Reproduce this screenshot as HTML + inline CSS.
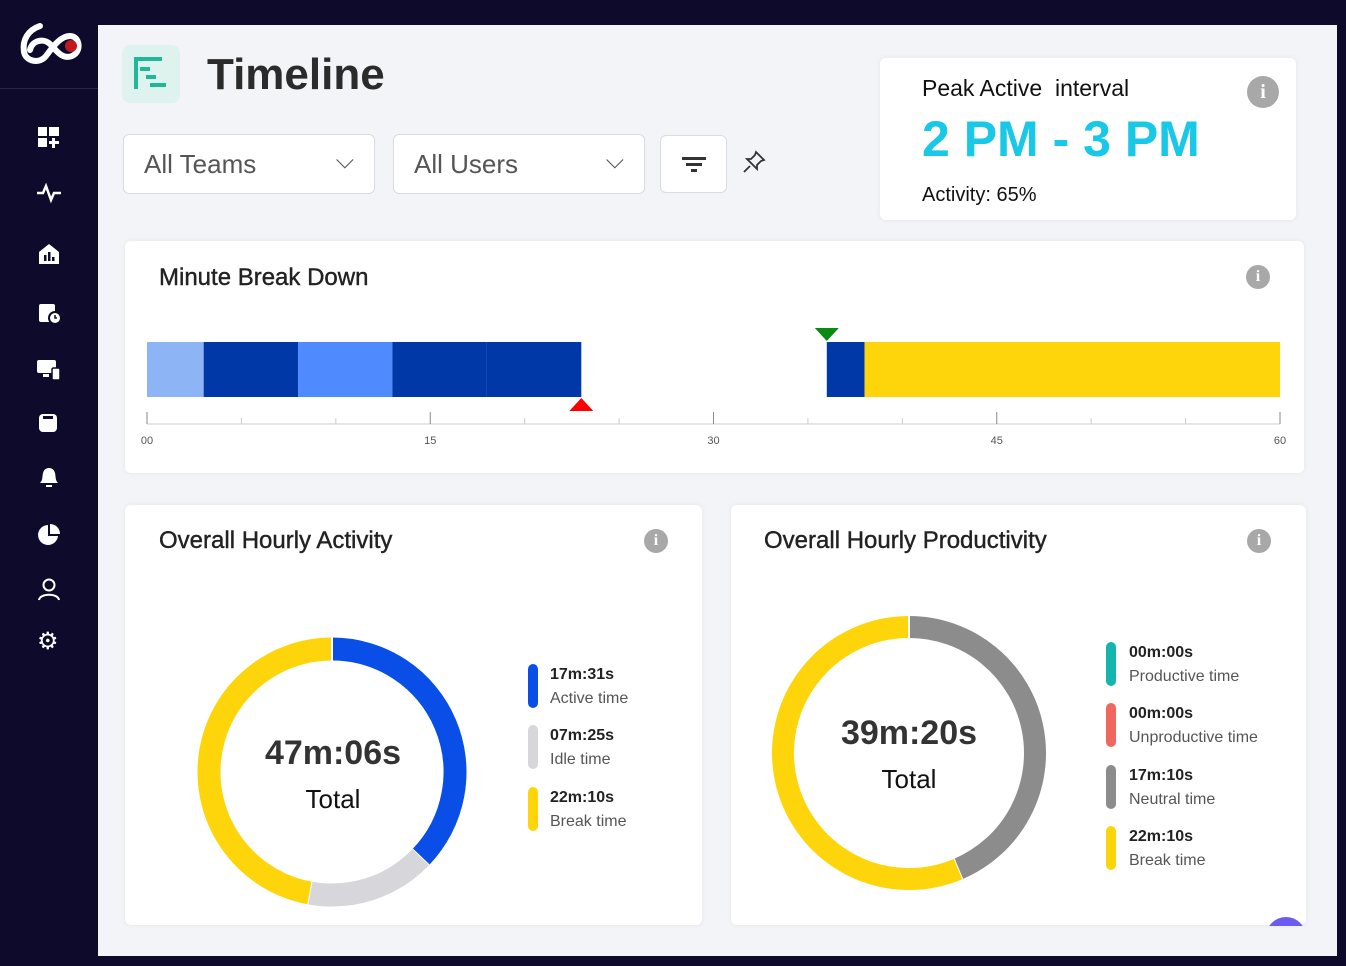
<!DOCTYPE html>
<html><head><meta charset="utf-8"><style>
*{box-sizing:border-box;margin:0;padding:0}
body{width:1346px;height:966px;background:#0e0a2c;font-family:"Liberation Sans",sans-serif;position:relative;overflow:hidden}
.abs{position:absolute}
#main{left:98px;top:25px;width:1239px;height:931px;background:#f3f4f7}
.card{background:#fff;border-radius:6px;box-shadow:0 0 6px rgba(0,0,0,.06)}
.sel{background:#fff;border:1px solid #d8dbe0;border-radius:6px;font-size:26px;color:#555;padding:14px 20px}
.info{width:24px;height:24px;border-radius:50%;background:#a8a8a8;color:#fff;font:bold 16px "Liberation Serif",serif;text-align:center;line-height:24px}
.ttl{font-size:24px;color:#222;-webkit-text-stroke:0.4px #222}
.lg{font-size:16px;color:#222;font-weight:bold;line-height:24px}
.lg span{font-weight:normal;color:#555;display:block}
.bar{width:10px;height:44px;border-radius:5px}
.ic{position:absolute;background:#fff}
</style></head><body>
<svg class="abs" style="left:18px;top:22px" width="66" height="46">
<path d="M22 4 C10 8 4 18 6 30 C8 40 22 42 28 34 C34 26 42 14 52 14 C62 14 64 30 54 34 C44 38 38 28 32 22 C26 16 14 18 12 28" fill="none" stroke="#fff" stroke-width="6" stroke-linecap="round"/>
<circle cx="53" cy="24" r="6" fill="#c01920"/></svg>
<div class="abs" style="left:0;top:88px;width:98px;height:1px;background:#2a2550"></div>
<div class="abs" style="left:38px;top:127px;width:22px;height:22px"><div class="ic" style="left:0;top:0;width:9px;height:9px"></div><div class="ic" style="left:11px;top:0;width:10px;height:9px"></div><div class="ic" style="left:0;top:11px;width:9px;height:9px"></div><div class="ic" style="left:14px;top:11px;width:3px;height:10px"></div><div class="ic" style="left:11px;top:14px;width:10px;height:3px"></div></div>
<svg class="abs" style="left:36px;top:182px" width="26" height="22"><path d="M1 11H7L10 4L15 18L18 11H25" fill="none" stroke="#fff" stroke-width="2.5"/></svg>
<svg class="abs" style="left:37px;top:243px" width="24" height="22"><path d="M2 9L12 1L22 9V21H2Z" fill="#fff"/><rect x="7" y="12" width="2.5" height="6" fill="#0e0a2c"/><rect x="11" y="9" width="2.5" height="9" fill="#0e0a2c"/><rect x="15" y="14" width="2.5" height="4" fill="#0e0a2c"/></svg>
<svg class="abs" style="left:38px;top:303px" width="24" height="22"><rect x="1" y="1" width="16" height="18" rx="2" fill="#fff"/><circle cx="17" cy="15" r="6" fill="#fff" stroke="#0e0a2c" stroke-width="2"/><path d="M17 12V15H19" stroke="#0e0a2c" stroke-width="1.5" fill="none"/></svg>
<svg class="abs" style="left:37px;top:360px" width="24" height="20"><rect x="0" y="0" width="19" height="13" rx="2" fill="#fff"/><rect x="6" y="14" width="6" height="3" fill="#fff"/><rect x="15" y="8" width="8" height="12" rx="1.5" fill="#fff" stroke="#0e0a2c" stroke-width="1.5"/></svg>
<svg class="abs" style="left:39px;top:412px" width="20" height="20"><rect x="0" y="2" width="18" height="18" rx="4" fill="#fff"/><rect x="4" y="4" width="10" height="3" fill="#0e0a2c"/></svg>
<svg class="abs" style="left:37px;top:465px" width="24" height="24"><path d="M3 18C6 15 5 12 6 8C7 4 10 3 12 3C14 3 17 4 18 8C19 12 18 15 21 18Z" fill="#fff"/><rect x="9" y="20" width="6" height="2" fill="#fff"/></svg>
<svg class="abs" style="left:37px;top:523px" width="24" height="24"><path d="M11 2A10 10 0 1 0 21 13H11Z" fill="#fff"/><path d="M13 1A10 10 0 0 1 23 11H13Z" fill="#fff"/></svg>
<svg class="abs" style="left:37px;top:578px" width="24" height="24"><circle cx="12" cy="7" r="5.5" fill="none" stroke="#fff" stroke-width="2"/><path d="M2 22C3 15 21 15 22 22" fill="none" stroke="#fff" stroke-width="2"/></svg>
<div class="abs" style="left:37px;top:627px;color:#fff;font-size:24px">⚙</div>

<div id="main" class="abs"></div>
<div class="abs" style="left:122px;top:45px;width:58px;height:58px;background:#dff3ee;border-radius:8px">
<div class="abs" style="left:12px;top:12px;width:4px;height:32px;background:#1fb89a"></div>
<div class="abs" style="left:12px;top:12px;width:28px;height:4px;background:#1fb89a"></div>
<div class="abs" style="left:18px;top:22px;width:10px;height:4px;background:#1fb89a"></div>
<div class="abs" style="left:24px;top:30px;width:10px;height:4px;background:#1fb89a"></div>
<div class="abs" style="left:28px;top:38px;width:16px;height:4px;background:#1fb89a"></div></div>
<div class="abs" style="left:207px;top:50px;font-size:44px;font-weight:bold;color:#2b2b2b">Timeline</div>
<div class="abs sel" style="left:123px;top:134px;width:252px;height:60px">All Teams<span style="position:absolute;right:20px;top:12px;font-size:24px">⌵</span></div>
<div class="abs sel" style="left:393px;top:134px;width:252px;height:60px">All Users<span style="position:absolute;right:20px;top:12px;font-size:24px">⌵</span></div>
<div class="abs sel" style="left:660px;top:135px;width:67px;height:58px;padding:0">
<div class="abs" style="left:21px;top:21px;width:24px;height:3px;background:#333"></div>
<div class="abs" style="left:25px;top:27px;width:16px;height:3px;background:#333"></div>
<div class="abs" style="left:30px;top:33px;width:6px;height:3px;background:#333"></div></div>
<svg class="abs" style="left:742px;top:150px" width="24" height="24"><path d="M14 2L22 10L19 11L15 15L15 19L5 9L9 9L13 5Z M8 16L2 22" fill="none" stroke="#333" stroke-width="1.8"/></svg>

<div class="abs card" style="left:880px;top:58px;width:416px;height:162px">
<div class="abs" style="left:42px;top:17px;font-size:23px;color:#111">Peak Active&nbsp; interval</div>
<div class="abs" style="left:42px;top:52px;font-size:50px;font-weight:bold;color:#19c7e6">2 PM - 3 PM</div>
<div class="abs" style="left:42px;top:126px;font-size:20px;color:#111">Activity: 65%</div>
<div class="abs info" style="left:367px;top:18px;width:32px;height:32px;line-height:32px;font-size:20px">i</div></div>

<div class="abs card" style="left:125px;top:241px;width:1179px;height:232px">
<div class="abs ttl" style="left:34px;top:23px">Minute Break Down</div>
<div class="abs info" style="left:1121px;top:24px">i</div></div>
<svg class="abs" id="tl" style="left:0;top:0" width="1346" height="480"></svg>

<div class="abs card" style="left:125px;top:505px;width:577px;height:420px">
<div class="abs ttl" style="left:34px;top:22px">Overall Hourly Activity</div>
<div class="abs info" style="left:519px;top:24px">i</div></div>
<div class="abs card" style="left:731px;top:505px;width:575px;height:420px">
<div class="abs ttl" style="left:33px;top:22px">Overall Hourly Productivity</div>
<div class="abs info" style="left:516px;top:24px">i</div></div>
<svg class="abs" id="d" style="left:0;top:0" width="1346" height="966"></svg>

<div class="abs" style="left:253px;top:734px;width:160px;text-align:center;font-size:34px;font-weight:bold;color:#333">47m:06s</div>
<div class="abs" style="left:263px;top:784px;width:140px;text-align:center;font-size:26px;color:#111">Total</div>
<div class="abs" style="left:829px;top:714px;width:160px;text-align:center;font-size:34px;font-weight:bold;color:#333">39m:20s</div>
<div class="abs" style="left:834px;top:764px;width:150px;text-align:center;font-size:26px;color:#111">Total</div>

<div class="abs bar" style="left:528px;top:664px;background:#0a4ee8"></div><div class="abs lg" style="left:550px;top:663px">17m:31s<span>Active time</span></div>
<div class="abs bar" style="left:528px;top:725px;background:#d6d6db"></div><div class="abs lg" style="left:550px;top:724px">07m:25s<span>Idle time</span></div>
<div class="abs bar" style="left:528px;top:787px;background:#fdd50a"></div><div class="abs lg" style="left:550px;top:786px">22m:10s<span>Break time</span></div>

<div class="abs bar" style="left:1106px;top:642px;background:#14b5ac"></div><div class="abs lg" style="left:1129px;top:641px">00m:00s<span>Productive time</span></div>
<div class="abs bar" style="left:1106px;top:703px;background:#f0675d"></div><div class="abs lg" style="left:1129px;top:702px">00m:00s<span>Unproductive time</span></div>
<div class="abs bar" style="left:1106px;top:765px;background:#8c8c8c"></div><div class="abs lg" style="left:1129px;top:764px">17m:10s<span>Neutral time</span></div>
<div class="abs bar" style="left:1106px;top:826px;background:#fdd50a"></div><div class="abs lg" style="left:1129px;top:825px">22m:10s<span>Break time</span></div>
<div class="abs" style="left:1266px;top:917px;width:40px;height:40px;border-radius:50%;background:#6b5cf0;clip-path:inset(0 0 31px 0)"></div>

<script>
const segStart=[0,3,8,13,18,36,38];
const segEnd=[3,8,13,18,23,38,60];
const segColor=['#8db4f5','#0038a8','#4f8bff','#0038a8','#0038a8','#0038a8','#fdd50a'];
const ticks=['00','15','30','45','60'];
const tickVals=[0,15,30,45,60];
const markerEnd=23, markerStart=36;
const ns='http://www.w3.org/2000/svg';
function mk(p,t,a){const e=document.createElementNS(ns,t);for(const k in a)e.setAttribute(k,a[k]);p.appendChild(e);return e;}
const x=m=>147+m*(1280-147)/60;
const tl=document.getElementById('tl');
segStart.forEach((s,i)=>{const r=mk(tl,'rect',{x:x(s),y:342,width:x(segEnd[i])-x(s),height:55,fill:segColor[i]});

});
mk(tl,'line',{x1:x(0),x2:x(60),y1:424,y2:424,stroke:'#ddd','stroke-width':1.5});
for(let m=0;m<=60;m+=5){mk(tl,'line',{x1:x(m),x2:x(m),y1:m%15?418:412,y2:424,stroke:m%15?'#ccc':'#888'});}
tickVals.forEach((v,i)=>{const t=mk(tl,'text',{x:x(v),y:444,'text-anchor':'middle','font-size':11,fill:'#555','font-family':'Liberation Sans'});t.textContent=ticks[i];

});
const rm=mk(tl,'polygon',{points:`${x(markerEnd)-12},411 ${x(markerEnd)+12},411 ${x(markerEnd)},398`,fill:'#f00'});


const gm=mk(tl,'polygon',{points:`${x(markerStart)-12},328 ${x(markerStart)+12},328 ${x(markerStart)},341`,fill:'#0a8a12'});



const actVals=[17*60+31,7*60+25,22*60+10];
const actColors=['#0a4ee8','#d6d6db','#fdd50a'];
const prodVals=[0,0,17*60+10,22*60+10];
const prodColors=['#14b5ac','#f0675d','#8c8c8c','#fdd50a'];
const d=document.getElementById('d');
function donut(cx,cy,r,w,vals,cols,name){const tot=vals.reduce((a,b)=>a+b,0);let a=0;
vals.forEach((v,i)=>{if(!v)return;const a0=a/tot*2*Math.PI,a1=(a+v)/tot*2*Math.PI;a+=v;
const p=ang=>[cx+r*Math.sin(ang),cy-r*Math.cos(ang)];const [x0,y0]=p(a0),[x1,y1]=p(a1);
const e=mk(d,'path',{d:`M${x0} ${y0}A${r} ${r} 0 ${a1-a0>Math.PI?1:0} 1 ${x1} ${y1}`,fill:'none',stroke:cols[i],'stroke-width':w});


mk(d,'line',{x1:cx+(r-w/2)*Math.sin(a1),y1:cy-(r-w/2)*Math.cos(a1),x2:cx+(r+w/2)*Math.sin(a1),y2:cy-(r+w/2)*Math.cos(a1),stroke:'#fff','stroke-width':2});});}
donut(332,772,123,23,actVals,actColors,'activity-slice');
donut(909,753,126,22,prodVals,prodColors,'productivity-slice');
</script>
</body></html>
